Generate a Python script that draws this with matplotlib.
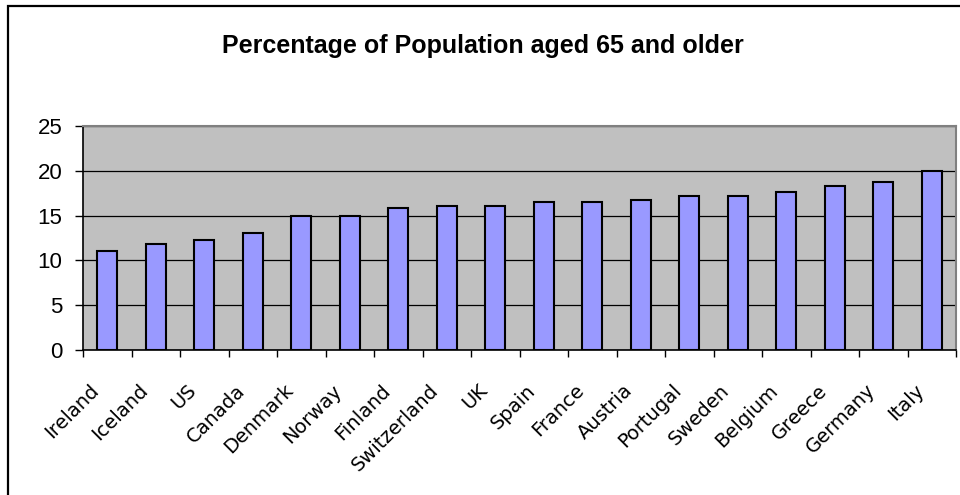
import numpy as np
import matplotlib.pyplot as plt
from matplotlib.patches import Rectangle
from matplotlib.transforms import ScaledTranslation

countries = ["Ireland", "Iceland", "US", "Canada", "Denmark", "Norway", "Finland",
             "Switzerland", "UK", "Spain", "France", "Austria", "Portugal", "Sweden",
             "Belgium", "Greece", "Germany", "Italy"]
pct_65_plus = [11.0, 11.8, 12.3, 13.1, 15.0, 15.0, 15.9, 16.1, 16.1, 16.5, 16.5,
               16.7, 17.2, 17.2, 17.6, 18.3, 18.7, 20.0]
y_ticks = [0, 5, 10, 15, 20, 25]

plt.rcParams['font.family'] = ['Liberation Sans', 'DejaVu Sans']

fig = plt.figure(figsize=(9.6, 4.95), dpi=100)
ax = fig.add_axes([83/960, 1-350/495, (956-83)/960, (350-126)/495])

x = np.arange(len(countries))
ax.set_facecolor('#C0C0C0')
ax.bar(x, pct_65_plus, width=0.42, color='#9999FF', edgecolor='black', linewidth=1.5, zorder=3)

ax.set_ylim(0, 25)
ax.set_xlim(-0.5, len(countries) - 0.5)
ax.set_yticks(y_ticks)
ax.yaxis.grid(True, color='black', linewidth=0.9, zorder=1)
ax.tick_params(axis='y', labelsize=16, length=6, width=1, pad=9)

# labels at bar centres, tick marks between categories
ax.set_xticks(x)
ax.set_xticklabels(countries, rotation=45, ha='right', va='center',
                   rotation_mode='anchor', fontsize=14, family=['DejaVu Sans'])
ax.tick_params(axis='x', which='major', length=0, pad=27)
shift = ScaledTranslation(-11/100, 0, fig.dpi_scale_trans)
for lbl in ax.get_xticklabels():
    lbl.set_transform(lbl.get_transform() + shift)
ax.set_xticks(np.arange(-0.5, len(countries)), minor=True)
ax.tick_params(axis='x', which='minor', length=5, width=1)

for side in ['top', 'right']:
    ax.spines[side].set_color('#808080')
    ax.spines[side].set_linewidth(1.5)
for side in ['left', 'bottom']:
    ax.spines[side].set_color('black')
    ax.spines[side].set_linewidth(1.2)

fig.text(0.503, 1-53/495, "Percentage of Population aged 65 and older",
         ha='center', va='baseline', fontsize=18, fontweight='bold')

# outer chart border
fig.patches.append(Rectangle((8/960, -0.1), 1.2, 1.1 - 6/495, transform=fig.transFigure,
                             fill=False, edgecolor='black', linewidth=1.6))

fig.savefig('out.png', dpi=100)
